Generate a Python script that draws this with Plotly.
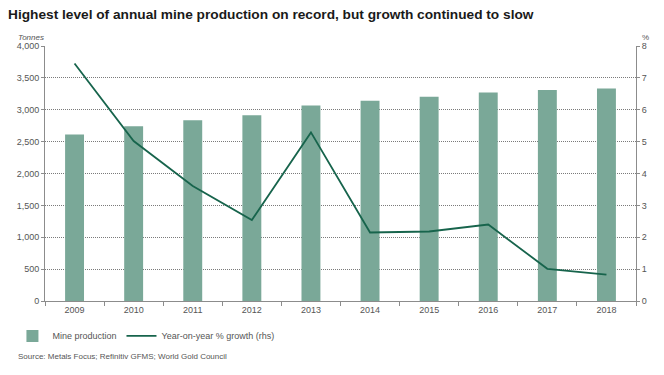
import plotly.graph_objects as go

years = ["2009", "2010", "2011", "2012", "2013", "2014", "2015", "2016", "2017", "2018"]
mine_production = [2612, 2740, 2835, 2915, 3065, 3140, 3205, 3270, 3310, 3335]
yoy_growth = [7.45, 5.02, 3.61, 2.54, 5.29, 2.15, 2.18, 2.40, 1.01, 0.83]

BAR_COLOR = "#7aa898"
LINE_COLOR = "#17644c"
TEXT = "#555555"
AXIS = "#8c8c8c"
FONT = "Liberation Sans Narrow, Arial Narrow, Liberation Sans, Arial, sans-serif"

fig = go.Figure()
fig.add_trace(go.Bar(x=years, y=mine_production, name="Mine production",
                     marker=dict(color=BAR_COLOR, line=dict(width=0)), width=0.32, yaxis="y"))
fig.add_trace(go.Scatter(x=years, y=yoy_growth, name="Year-on-year % growth (rhs)",
                         mode="lines", line=dict(color=LINE_COLOR, width=1.8), yaxis="y2"))

fig.update_layout(
    width=664, height=375,
    margin=dict(l=37, r=28, t=46, b=74),
    paper_bgcolor="white", plot_bgcolor="white",
    font=dict(family="Liberation Sans, Arial, sans-serif", size=9, color=TEXT),
    title=dict(text="<b>Highest level of annual mine production on record, but growth continued to slow</b>",
               font=dict(family=FONT, size=13.7, color="#1a1a1a"),
               x=8/664, xanchor="left", xref="container",
               y=1-14/375, yanchor="middle", yref="container"),
    xaxis=dict(type="category", tickson="boundaries", ticks="outside", ticklen=4,
               tickcolor=AXIS, showline=True, linecolor=AXIS, linewidth=1,
               showgrid=False, tickfont=dict(size=9, color=TEXT), zeroline=False),
    yaxis=dict(range=[0, 4000], dtick=500, tickformat=",", showline=True, linecolor=AXIS,
               linewidth=1, ticks="outside", ticklen=3, tickcolor=AXIS,
               showgrid=True, gridcolor="#7a7a7a", griddash="1px,1px", gridwidth=1,
               zeroline=False, tickfont=dict(size=9, color=TEXT)),
    yaxis2=dict(range=[0, 8], dtick=1, overlaying="y", side="right", showline=True,
                linecolor=AXIS, linewidth=1, ticks="outside", ticklen=3, tickcolor=AXIS,
                showgrid=False, zeroline=False, tickfont=dict(size=9, color=TEXT)),
    bargap=0.6,
    showlegend=True,
    legend=dict(orientation="h", x=(4-37)/599, xanchor="left", y=-0.137, yanchor="middle",
                font=dict(size=9, color=TEXT), bgcolor="rgba(0,0,0,0)",
                itemwidth=30, tracegroupgap=0),
    annotations=[
        dict(text="<i>Tonnes</i>", x=(8-37)/599, xref="paper", xanchor="left", y=1.035, yref="paper",
             yanchor="middle", showarrow=False, font=dict(size=8, color=TEXT)),
        dict(text="%", x=1.0, xref="paper", xanchor="left", xshift=4, y=1.035, yref="paper",
             yanchor="middle", showarrow=False, font=dict(size=8, color=TEXT)),
        dict(text="Source: Metals Focus; Refinitiv GFMS; World Gold Council", x=(8-37)/599,
             xref="paper", xanchor="left", y=-0.216, yref="paper", yanchor="middle",
             showarrow=False, font=dict(size=8, color=TEXT)),
    ],
)

fig.write_html("out.html", config={"displayModeBar": False},
               post_script="document.body.style.margin='0';")
